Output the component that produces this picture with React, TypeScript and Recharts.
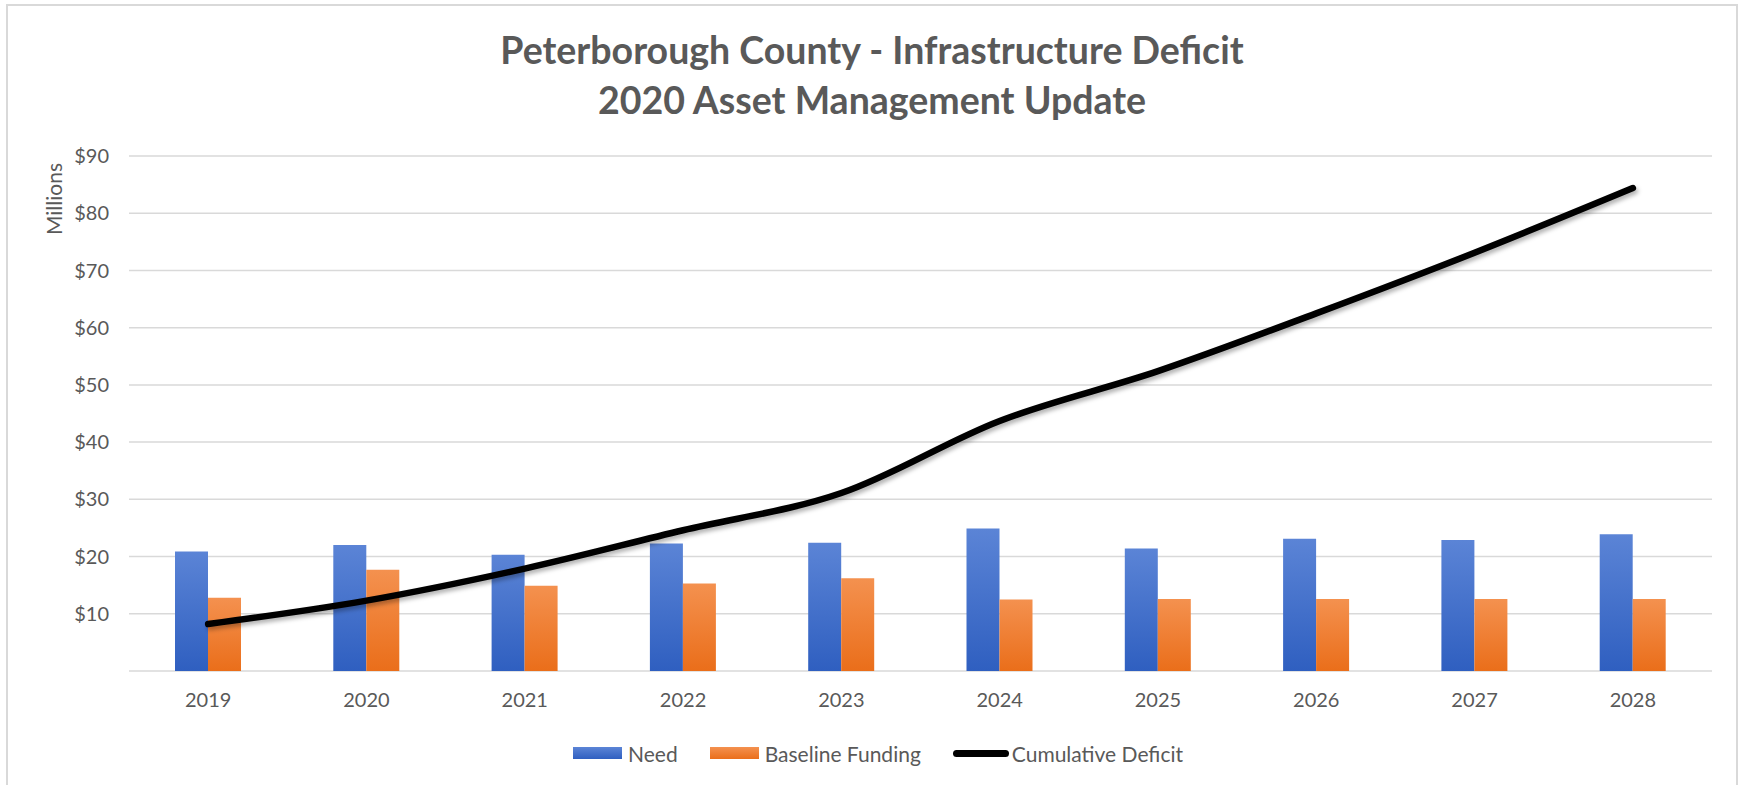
import React from 'react'
import {
  ComposedChart,
  Bar,
  Line,
  XAxis,
  YAxis,
  CartesianGrid,
} from 'recharts'

const YEARS = ['2019', '2020', '2021', '2022', '2023', '2024', '2025', '2026', '2027', '2028']
const NEED = [20.9, 22.0, 20.3, 22.3, 22.4, 24.9, 21.4, 23.1, 22.9, 23.9]
const BASELINE_FUNDING = [12.8, 17.7, 14.9, 15.3, 16.2, 12.5, 12.6, 12.6, 12.6, 12.6]
const CUMULATIVE_DEFICIT = [8.2, 12.3, 17.9, 24.6, 31.1, 43.7, 52.4, 62.5, 73.1, 84.4]
const Y_TICKS = [0, 10, 20, 30, 40, 50, 60, 70, 80, 90]

const TEXT = '#595959'
const FONT = 'Lato, "Open Sans", sans-serif'

const data = YEARS.map((year, i) => ({
  year,
  need: NEED[i],
  baseline: BASELINE_FUNDING[i],
  deficit: CUMULATIVE_DEFICIT[i],
}))

const LEGEND = [
  { label: 'Need', kind: 'bar', bg: 'linear-gradient(#5b84d6, #2f5fc0)' },
  { label: 'Baseline Funding', kind: 'bar', bg: 'linear-gradient(#f4914f, #ea6e1a)' },
  { label: 'Cumulative Deficit', kind: 'line', bg: '#000' },
]

export default function App() {
  return (
    <div
      style={{
        position: 'absolute',
        left: 0,
        top: 0,
        width: 1744,
        height: 785,
        background: '#fff',
        fontFamily: FONT,
        overflow: 'hidden',
      }}
    >
      <div
        style={{
          position: 'absolute',
          left: 6,
          top: 4,
          width: 1732,
          height: 800,
          border: '2px solid #d9d9d9',
          boxSizing: 'border-box',
        }}
      />
      <div
        style={{
          position: 'absolute',
          left: 0,
          top: 25,
          width: 1744,
          textAlign: 'center',
          fontSize: 37.5,
          fontWeight: 700,
          lineHeight: '50px',
          color: TEXT,
        }}
      >
        Peterborough County - Infrastructure Deficit
        <br />
        2020 Asset Management Update
      </div>
      <div
        style={{
          position: 'absolute',
          left: 53,
          top: 199,
          transform: 'translate(-50%, -50%) rotate(-90deg)',
          fontSize: 21,
          color: TEXT,
          whiteSpace: 'nowrap',
        }}
      >
        Millions
      </div>

      <div style={{ position: 'absolute', left: 0, top: 0 }}>
        <ComposedChart
          width={1744}
          height={785}
          data={data}
          margin={{ top: 156, right: 32, bottom: 84, left: 69 }}
          barGap={0}
        >
          <defs>
            <linearGradient id="needGrad" x1="0" y1="0" x2="0" y2="1">
              <stop offset="0%" stopColor="#5b84d6" />
              <stop offset="100%" stopColor="#2f5fc0" />
            </linearGradient>
            <linearGradient id="fundGrad" x1="0" y1="0" x2="0" y2="1">
              <stop offset="0%" stopColor="#f4914f" />
              <stop offset="100%" stopColor="#ea6e1a" />
            </linearGradient>
            <filter id="lineShadow" x="-5%" y="-20%" width="110%" height="140%">
              <feDropShadow dx="2" dy="3" stdDeviation="2" floodColor="#000" floodOpacity="0.3" />
            </filter>
          </defs>
          <CartesianGrid vertical={false} stroke="#d9d9d9" strokeWidth={1.5} />
          <XAxis
            dataKey="year"
            axisLine={false}
            tickLine={false}
            tickSize={0}
            tickMargin={22}
            height={30}
            tick={{ fill: TEXT, fontSize: 20, fontFamily: FONT }}
          />
          <YAxis
            width={60}
            domain={[0, 90]}
            ticks={Y_TICKS}
            axisLine={false}
            tickLine={false}
            tickSize={0}
            tickMargin={20}
            tickFormatter={(v: number) => (v === 0 ? '' : `$${v}`)}
            tick={{ fill: TEXT, fontSize: 20, fontFamily: FONT }}
          />
          <Bar dataKey="need" name="Need" fill="url(#needGrad)" barSize={33} isAnimationActive={false} />
          <Bar dataKey="baseline" name="Baseline Funding" fill="url(#fundGrad)" barSize={33} isAnimationActive={false} />
          <Line
            dataKey="deficit"
            name="Cumulative Deficit"
            type="monotone"
            stroke="#000"
            strokeWidth={6.5}
            strokeLinecap="round"
            dot={false}
            filter="url(#lineShadow)"
            isAnimationActive={false}
          />
        </ComposedChart>
      </div>

      <div
        style={{
          position: 'absolute',
          left: 6,
          top: 740,
          width: 1744,
          display: 'flex',
          justifyContent: 'center',
          alignItems: 'center',
          height: 26,
          fontSize: 21,
          color: TEXT,
        }}
      >
        {LEGEND.map((item, i) => (
          <div
            key={item.label}
            style={{ display: 'flex', alignItems: 'center', marginLeft: i === 0 ? 0 : 32 }}
          >
            {item.kind === 'bar' ? (
              <span style={{ width: 49, height: 12, background: item.bg, marginRight: 6 }} />
            ) : (
              <span
                style={{ width: 56, height: 7, borderRadius: 4, background: item.bg, marginRight: 3 }}
              />
            )}
            <span>{item.label}</span>
          </div>
        ))}
      </div>
    </div>
  )
}
